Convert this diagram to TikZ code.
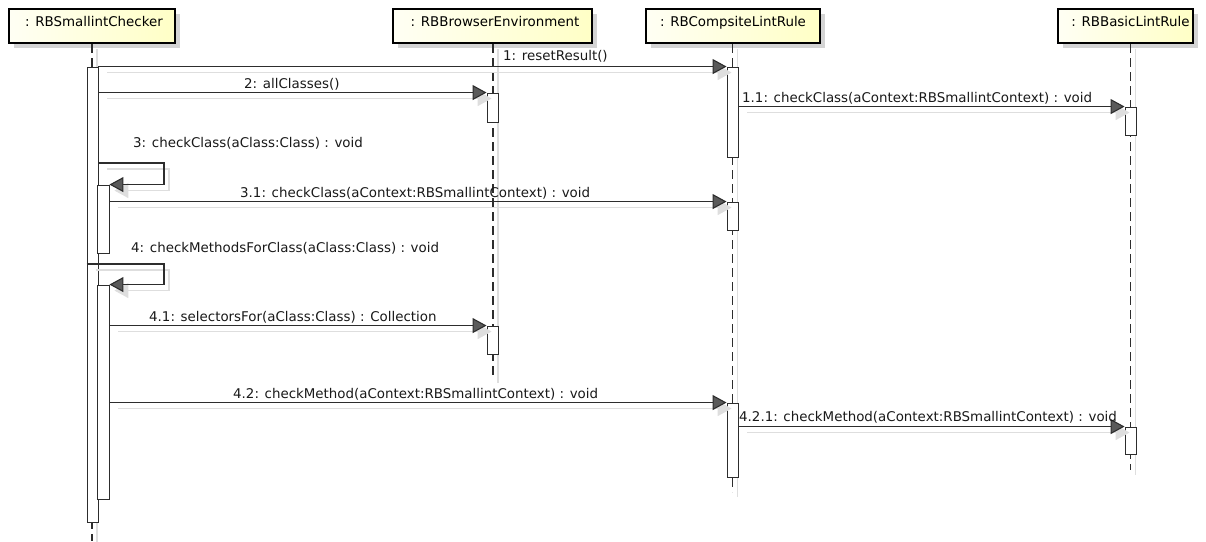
\documentclass[tikz,border=0pt]{standalone}
\usepackage{fontspec}
\setmainfont{DejaVu Sans}
\usetikzlibrary{arrows.meta,shadows}

\definecolor{hdrL}{RGB}{255,255,244}
\definecolor{hdrR}{RGB}{255,255,198}
\definecolor{ink}{RGB}{45,45,45}
\definecolor{shade}{RGB}{222,222,222}
\definecolor{tipfill}{RGB}{90,90,90}

\begin{document}
\begin{tikzpicture}[x=1pt,y=-1pt,
  font=\fontsize{13.4}{15}\selectfont,
  head/.style={draw=black, line width=2pt, minimum width=#1, minimum height=34pt,
    inner sep=0pt, left color=hdrL, right color=hdrR,
    text height=9.6pt, text depth=8pt,
    general shadow={shadow xshift=5pt, shadow yshift=-5pt, fill=black!17}},
  life/.style={draw=ink, line width=1.1pt, dash pattern=on 9pt off 5pt},
  lifeshadow/.style={draw=shade, line width=1.2pt,
    transform canvas={xshift=5pt, yshift=-5pt}},
  act/.style={draw=ink, line width=0.9pt, fill=white, inner sep=0pt,
    minimum width=11pt, minimum height=#1},
  msg/.style={draw=ink, line width=1.1pt,
    -{Triangle[length=14pt,width=15pt,fill=tipfill]}},
  msgshadow/.style={draw=shade, line width=1.2pt, shorten <=4pt,
    -{Triangle[length=14pt,width=15pt,fill=shade]},
    transform canvas={xshift=5pt, yshift=-6pt}},
  lbl/.style={anchor=west, inner sep=0pt, text height=9.6pt, text depth=0pt, text=black!90}
]
\useasboundingbox (0,0) rectangle (1206,541);

% lifeline heads
\node[head=166pt] (h1) at (92,26)     {\hspace{4pt}: RBSmallintChecker};
\node[head=199pt] (h2) at (492.5,26)  {\hspace{5pt}: RBBrowserEnvironment};
\node[head=174pt] (h3) at (733,26)    {: RBCompsiteLintRule};
\node[head=135pt] (h4) at (1125.5,26) {\hspace{10pt}: RBBasicLintRule};

% lifeline ends
\coordinate (e1) at (92,541);
\coordinate (e2) at (493,378);
\coordinate (e3) at (732.5,492);
\coordinate (e4) at (1130.5,470);

% lifelines with their shadows
\foreach \h/\e in {h1/e1,h2/e2,h3/e3,h4/e4}{
  \draw[lifeshadow] (\h.south -| \e) -- (\e);
  \draw[life] (\h.south -| \e) -- (\e);
}

% activations
\node[act=455pt] (chk)  at (92.5,294.5) {};
\node[act=68pt, minimum width=12pt]  (n1) at (103,219) {};
\node[act=214pt, minimum width=12pt] (n2) at (103,392) {};
\node[act=29pt] (br1)  at (492.5,107.5) {};
\node[act=28pt] (br2)  at (492.5,340) {};
\node[act=90pt] (cmp1) at (732.5,112) {};
\node[act=28pt] (cmp2) at (732.5,216) {};
\node[act=74pt] (cmp3) at (732.5,440) {};
\node[act=28pt] (bas1) at (1130.5,121) {};
\node[act=27pt] (bas2) at (1130.5,440.5) {};

% corners of the two self calls
\coordinate (l3) at (164,163);
\coordinate (l4) at (164,264);

% message shadows
\draw[msgshadow] (chk.east |- cmp1.north west) -- (cmp1.north west);
\draw[msgshadow] (chk.east |- br1.north west) -- (br1.north west);
\draw[msgshadow] (cmp1.east |- bas1.north west) -- (bas1.north west);
\draw[msgshadow] (chk.east |- l3) -- (l3) |- (n1.north east);
\draw[msgshadow] (n1.east |- cmp2.north west) -- (cmp2.north west);
\draw[msgshadow] (chk.west |- l4) -- (l4) |- (n2.north east);
\draw[msgshadow] (n2.east |- br2.north west) -- (br2.north west);
\draw[msgshadow] (n2.east |- cmp3.north west) -- (cmp3.north west);
\draw[msgshadow] (cmp3.east |- bas2.north west) -- (bas2.north west);

% messages
\draw[msg] (chk.east |- cmp1.north west) -- (cmp1.north west);
\draw[msg] (chk.east |- br1.north west) -- (br1.north west);
\draw[msg] (cmp1.east |- bas1.north west) -- (bas1.north west);
\draw[msg] (chk.east |- l3) -- (l3) |- (n1.north east);
\draw[msg] (n1.east |- cmp2.north west) -- (cmp2.north west);
\draw[msg] (chk.west |- l4) -- (l4) |- (n2.north east);
\draw[msg] (n2.east |- br2.north west) -- (br2.north west);
\draw[msg] (n2.east |- cmp3.north west) -- (cmp3.north west);
\draw[msg] (cmp3.east |- bas2.north west) -- (bas2.north west);

% message labels
\node[lbl] (m1)   at (503,56)  {1: resetResult()};
\node[lbl] (m2)   at (244,84)  {2: allClasses()};
\node[lbl] (m11)  at (742,98)  {1.1: checkClass(aContext:RBSmallintContext) : void};
\node[lbl] (m3)   at (133,143) {3: checkClass(aClass:Class) : void};
\node[lbl] (m31)  at (240,193) {3.1: checkClass(aContext:RBSmallintContext) : void};
\node[lbl] (m4)   at (131,248) {4: checkMethodsForClass(aClass:Class) : void};
\node[lbl] (m41)  at (149,317) {4.1: selectorsFor(aClass:Class) : Collection};
\node[lbl] (m42)  at (233,394) {4.2: checkMethod(aContext:RBSmallintContext) : void};
\node[lbl] (m421) at (739,417) {4.2.1: checkMethod(aContext:RBSmallintContext) : void};
\end{tikzpicture}
\end{document}
